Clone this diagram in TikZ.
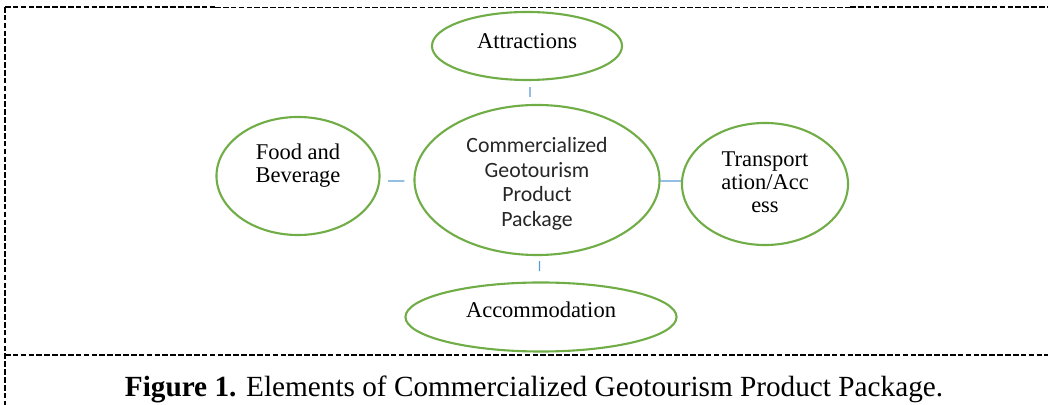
\documentclass[tikz,border=0pt]{standalone}
\usepackage{fontspec}
\setmainfont{Liberation Serif}
\newfontfamily\calibrifont{Carlito}
\usetikzlibrary{shapes.geometric}
\definecolor{elemgreen}{HTML}{70AD47}
\definecolor{linkblue}{HTML}{5B9BD5}
\tikzset{elem/.style={ellipse, draw=elemgreen, line width=1.5pt, inner sep=0pt},
         elemtext/.style={align=center, font=\fontsize{16}{16.5}\selectfont, inner sep=0pt},
         link/.style={draw=linkblue, line width=0.9pt},
         frame/.style={black, dashed, dash pattern=on 4pt off 1.6pt}}

\begin{document}
\begin{tikzpicture}[x=0.025cm,y=-0.025cm]
     \useasboundingbox (0,0) rectangle (1048,405);
     \draw[frame,line width=1.3pt] (5,7) -- (215,7);
     \draw[frame,line width=0.6pt] (215,7) -- (850,7);
     \draw[frame,line width=1.3pt] (850,7) -- (1048,7);
     \draw[frame,line width=1.4pt] (5,7) -- (5,405);
     \draw[frame,line width=0.9pt] (5,355) -- (1048,355);
     \node[elem, minimum width=4.75cm,  minimum height=1.7cm]   (attr)  at (527,46)  {};
     \node[elem, minimum width=6.125cm, minimum height=3.75cm]  (core)  at (537,180) {};
     \node[elem, minimum width=4.075cm, minimum height=2.95cm]  (food)  at (298,176) {};
     \node[elem, minimum width=4.15cm,  minimum height=3.05cm]  (trans) at (765,184) {};
     \node[elem, minimum width=6.775cm, minimum height=1.725cm] (acc)   at (541,317) {};
     \node[elemtext] (attrtext)  at ([yshift=0.125cm]attr.center)  {Attractions};
     \node[elemtext, font=\calibrifont\fontsize{15.5}{17.4}\selectfont, text=black!85]
                     (coretext)  at ([yshift=-0.1cm]core.center)   {Commercialized\\Geotourism\\Product\\Package};
     \node[elemtext] (foodtext)  at ([yshift=0.25cm]food.center)   {Food and\\Beverage};
     \node[elemtext] (transtext) at ([yshift=0.05cm]trans.center)  {Transport\\ation/Acc\\ess};
     \node[elemtext] (acctext)   at ([yshift=0.175cm]acc.center)   {Accommodation};
     \draw[link, shorten <=0.15cm, shorten >=0.175cm] ([xshift=0.075cm]attr.south) -- ([xshift=-0.175cm]core.north);
     \draw[link, shorten <=0.19cm, shorten >=0.225cm] ([yshift=-0.125cm]food.east) -- ([yshift=-0.025cm]core.west);
     \draw[link] ([yshift=-0.025cm]core.east) -- ([yshift=0.075cm]trans.west);
     \draw[link, shorten <=0.125cm, shorten >=0.26cm] ([xshift=0.0625cm]core.south) -- ([xshift=-0.0375cm]acc.north);
     \node[font=\fontsize{20.8}{23}\selectfont, inner sep=0pt] (caption) at (534,389)
          {\textbf{Figure 1.} Elements of Commercialized Geotourism Product Package.};
    \end{tikzpicture}
\end{document}
